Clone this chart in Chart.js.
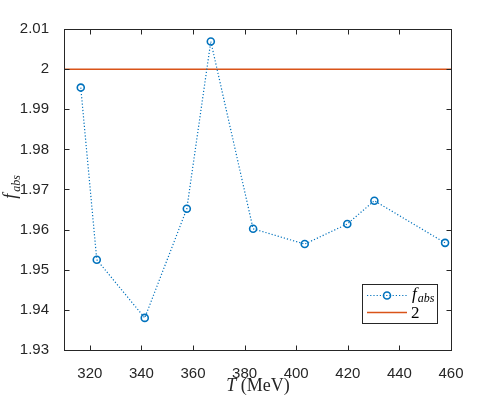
<!DOCTYPE html>
<html>
<head>
<meta charset="utf-8">
<script src="https://cdn.jsdelivr.net/npm/chart.js@4"></script>
<style>
  body { margin: 0; background: #fff; }
</style>
</head>
<body>
<canvas id="chart-fabs" width="498" height="399"></canvas>
<script>
// data
const temps = [316.5, 322.7, 341.3, 357.6, 366.9, 383.3, 403.3, 419.8, 430.3, 457.7];
const fabs = [1.9954, 1.9525, 1.9380, 1.9652, 2.0069, 1.9602, 1.9564, 1.9614, 1.9672, 1.9567];
const refT = [310, 460];
const refVal = [2, 2];
const xTicks = [320, 340, 360, 380, 400, 420, 440, 460];
const yTicks = [1.93, 1.94, 1.95, 1.96, 1.97, 1.98, 1.99, 2.00, 2.01];

const blue = '#0072BD';
const orange = '#D95319';
const axisColor = '#262626';
const serif = '"Liberation Serif", "Times New Roman", serif';
const sans = '"Liberation Sans", Arial, sans-serif';

const ctxEl = document.getElementById("chart-fabs");

// box, inward ticks, axis titles and the inside legend
const matlabLook = {
  id: 'matlabLook',
  afterDraw(chart) {
    const ctx = chart.ctx;
    const a = chart.chartArea;
    const xs = chart.scales.x;
    const ys = chart.scales.y;
    const L = Math.round(a.left) + 0.5, R = Math.round(a.right) + 0.5;
    const T = Math.round(a.top) + 0.5, B = Math.round(a.bottom) + 0.5;
    ctx.save();
    ctx.strokeStyle = axisColor;
    ctx.lineWidth = 1;
    ctx.strokeRect(L, T, R - L, B - T);
    ctx.beginPath();
    xTicks.forEach(v => {
      const px = Math.round(xs.getPixelForValue(v)) + 0.5;
      ctx.moveTo(px, B); ctx.lineTo(px, B - 5);
      ctx.moveTo(px, T); ctx.lineTo(px, T + 5);
    });
    yTicks.forEach(v => {
      const py = Math.round(ys.getPixelForValue(v)) + 0.5;
      ctx.moveTo(L, py); ctx.lineTo(L + 5, py);
      ctx.moveTo(R, py); ctx.lineTo(R - 5, py);
    });
    ctx.stroke();

    // x title: T (MeV)
    ctx.fillStyle = axisColor;
    ctx.textBaseline = 'alphabetic';
    ctx.font = 'italic 18px ' + serif;
    const wT = ctx.measureText('T').width;
    ctx.font = '18px ' + serif;
    const wU = ctx.measureText(' (MeV)').width;
    let x0 = 258 - (wT + wU) / 2;
    ctx.font = 'italic 18px ' + serif;
    ctx.fillText('T', x0, 391);
    ctx.font = '18px ' + serif;
    ctx.fillText(' (MeV)', x0 + wT, 391);

    // y title: f_abs
    ctx.translate(16, 187);
    ctx.rotate(-Math.PI / 2);
    ctx.font = 'italic 18px ' + serif;
    const wf = ctx.measureText('f').width;
    ctx.font = 'italic 12px ' + serif;
    const wa = ctx.measureText('abs').width;
    const y0 = -(wf + wa + 2) / 2;
    ctx.font = 'italic 18px ' + serif;
    ctx.fillText('f', y0, 0);
    ctx.font = 'italic 12px ' + serif;
    ctx.fillText('abs', y0 + wf + 2, 4);
    ctx.restore();

    // legend box
    const ds = chart.data.datasets;
    ctx.save();
    ctx.fillStyle = '#fff';
    ctx.fillRect(362.5, 284.5, 75, 39);
    ctx.strokeStyle = axisColor;
    ctx.lineWidth = 1;
    ctx.strokeRect(362.5, 284.5, 75, 39);
    // row 1
    ctx.strokeStyle = ds[0].borderColor;
    ctx.lineWidth = ds[0].borderWidth;
    ctx.setLineDash(ds[0].borderDash);
    ctx.beginPath();
    ctx.moveTo(367, 295.5); ctx.lineTo(407, 295.5);
    ctx.stroke();
    ctx.setLineDash([]);
    ctx.lineWidth = ds[0].pointBorderWidth;
    ctx.beginPath();
    ctx.arc(387, 295.5, ds[0].pointRadius, 0, Math.PI * 2);
    ctx.stroke();
    ctx.fillStyle = '#000';
    ctx.font = 'italic 17px ' + serif;
    ctx.fillText('f', 412, 299);
    const wf2 = ctx.measureText('f').width;
    ctx.font = 'italic 12px ' + serif;
    ctx.fillText('abs', 413 + wf2, 302);
    // row 2
    ctx.strokeStyle = ds[1].borderColor;
    ctx.lineWidth = ds[1].borderWidth;
    ctx.beginPath();
    ctx.moveTo(367, 312.5); ctx.lineTo(407, 312.5);
    ctx.stroke();
    ctx.font = '17px ' + serif;
    ctx.fillText('2', 411, 318);
    ctx.restore();
  }
};

new Chart(ctxEl, {
  type: "line",
  data: {
    datasets: [
      {
        label: "f_abs",
        data: temps.map((t, i) => ({ x: t, y: fabs[i] })),
        borderColor: blue,
        borderWidth: 1.2,
        borderDash: [1.2, 2],
        pointRadius: 3.5,
        pointBorderWidth: 1.6,
        pointBorderColor: blue,
        pointBackgroundColor: 'rgba(0,0,0,0)',
        tension: 0,
      },
      {
        label: "2",
        data: refT.map((t, i) => ({ x: t, y: refVal[i] })),
        borderColor: orange,
        borderWidth: 1.5,
        pointRadius: 0,
        tension: 0,
      },
    ],
  },
  options: {
    responsive: false,
    animation: false,
    devicePixelRatio: 1,
    layout: { padding: { top: 29, right: 47, left: 0, bottom: 0 } },
    plugins: {
      legend: { display: false },
      tooltip: { enabled: false },
    },
    scales: {
      x: {
        type: 'linear',
        min: 310,
        max: 460,
        grid: { display: false },
        border: { display: false },
        afterBuildTicks: s => { s.ticks = xTicks.map(v => ({ value: v })); },
        afterFit: s => { s.height = 49; },
        ticks: {
          color: axisColor,
          font: { family: sans, size: 15 },
          padding: 7,
          maxRotation: 0,
        },
      },
      y: {
        type: 'linear',
        min: 1.93,
        max: 2.01,
        grid: { display: false },
        border: { display: false },
        afterBuildTicks: s => { s.ticks = yTicks.map(v => ({ value: v })); },
        afterFit: s => { s.width = 64; },
        ticks: {
          color: axisColor,
          font: { family: sans, size: 15 },
          padding: 7,
          callback: v => String(+v.toFixed(2)),
        },
      },
    },
  },
  plugins: [matlabLook],
});
</script>
</body>
</html>
